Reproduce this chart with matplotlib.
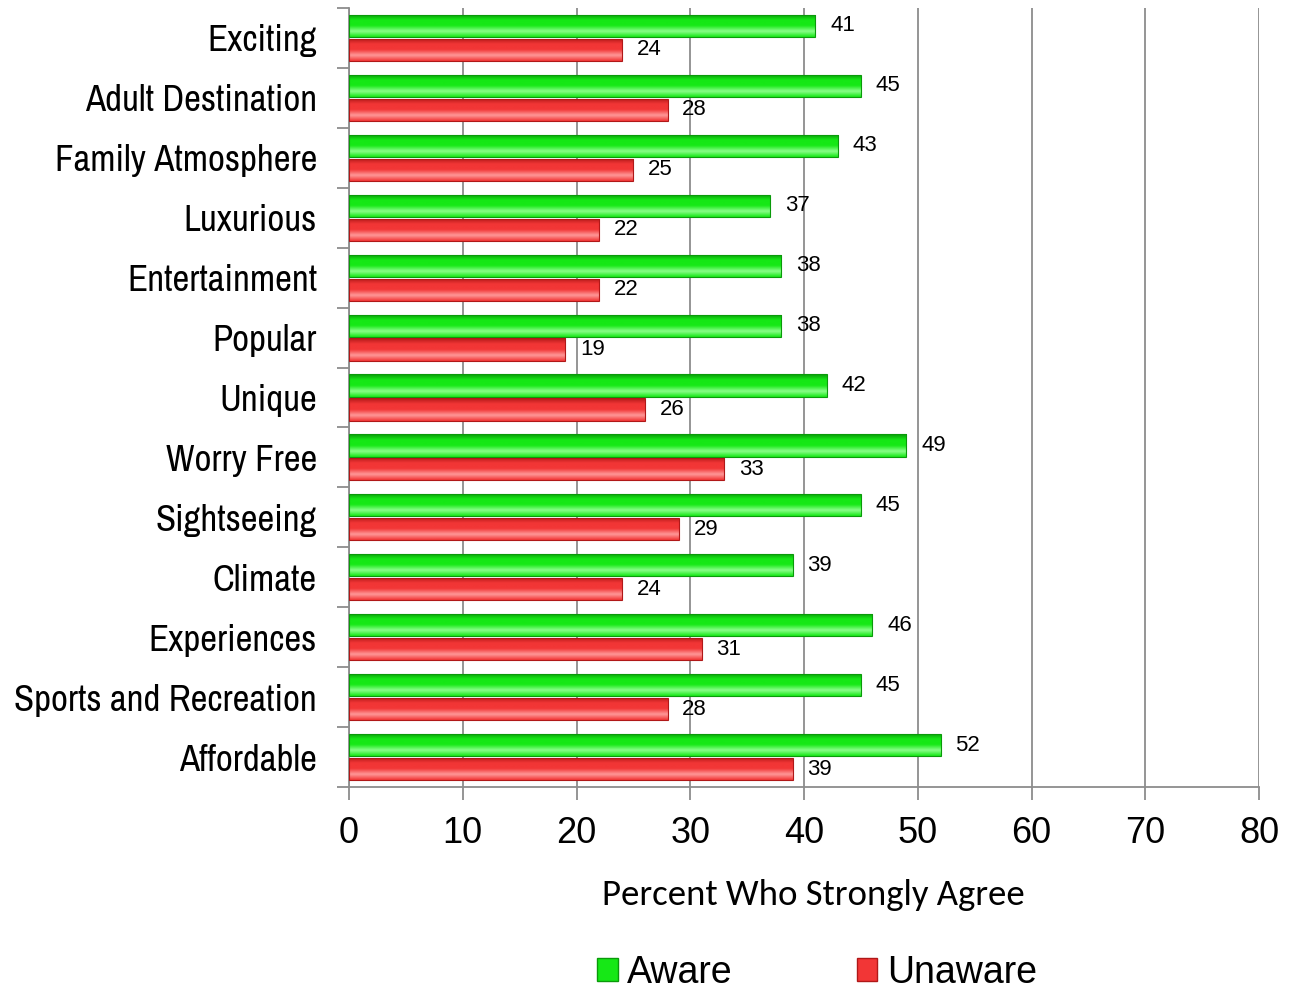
import numpy as np
import matplotlib.pyplot as plt
from matplotlib.patches import Patch
from matplotlib.colors import LinearSegmentedColormap

categories = [
    "Exciting", "Adult Destination", "Family Atmosphere", "Luxurious",
    "Entertainment", "Popular", "Unique", "Worry Free", "Sightseeing",
    "Climate", "Experiences", "Sports and Recreation", "Affordable",
]
aware = [41, 45, 43, 37, 38, 38, 42, 49, 45, 39, 46, 45, 52]
unaware = [24, 28, 25, 22, 22, 19, 26, 33, 29, 24, 31, 28, 39]
x_ticks = [0, 10, 20, 30, 40, 50, 60, 70, 80]

NARROW = ["Archivo Narrow", "DejaVu Sans"]
ARIAL = ["Liberation Sans", "DejaVu Sans"]
CALIBRI = ["Carlito", "Lato", "DejaVu Sans"]

green = {"face": "#16e816", "light": "#8cff8c", "dark": "#0a9a0a"}
red = {"face": "#f23636", "light": "#ff9a9a", "dark": "#b01818"}


def glossy(ax, bars, c):
    """Paint a vertical highlight gradient inside each bar."""
    cmap = LinearSegmentedColormap.from_list(
        "g", [c["dark"], c["face"], c["face"], c["light"], c["face"]])
    grad = np.linspace(0, 1, 64).reshape(-1, 1)
    for b in bars:
        x0, y0 = b.get_x(), b.get_y()
        w, h = b.get_width(), b.get_height()
        im = ax.imshow(grad, cmap=cmap, aspect="auto", origin="upper",
                       extent=(x0, x0 + w, y0 + h, y0), zorder=2,
                       interpolation="bicubic")
        im.set_clip_path(b)
        b.set_facecolor("none")
        b.set_edgecolor(c["dark"])
        b.set_linewidth(0.8)
        b.set_zorder(3)


fig = plt.figure(figsize=(12.91, 9.90), dpi=100)
ax = fig.add_axes([349 / 1291, 1 - 787 / 990, 910 / 1291, 779 / 990])

y = np.arange(len(categories))
h = 0.37
bars_a = ax.barh(y - 0.2, aware, height=h, color=green["face"])
bars_u = ax.barh(y + 0.2, unaware, height=h, color=red["face"])
glossy(ax, bars_a, green)
glossy(ax, bars_u, red)

for yi, v in zip(y, aware):
    ax.text(v + 1.3, yi - 0.2, str(v), va="center", ha="left",
            fontsize=16, family=ARIAL, zorder=4)
for yi, v in zip(y, unaware):
    ax.text(v + 1.3, yi + 0.2, str(v), va="center", ha="left",
            fontsize=16, family=ARIAL, zorder=4)

ax.set_xlim(0, 80)
ax.set_ylim(len(categories) - 0.5, -0.5)
ax.set_xticks(x_ticks)
ax.set_xticklabels([str(t) for t in x_ticks], fontsize=26, family=ARIAL)
ax.tick_params(axis="x", length=9, color="#8c8c8c", width=1.3, pad=12)

# category boundary ticks on the left, labels centred between them
ax.set_yticks(np.arange(len(categories) + 1) - 0.5)
ax.set_yticklabels([])
ax.set_yticks(y, minor=True)
ax.set_yticklabels(categories, minor=True, fontsize=26.5, family=NARROW)
ax.tick_params(axis="y", which="major", length=9, color="#8c8c8c", width=1.3)
ax.tick_params(axis="y", which="minor", length=0, pad=23)

ax.grid(axis="x", color="#8c8c8c", linewidth=1.3)
ax.set_axisbelow(True)
for s in ("top", "right"):
    ax.spines[s].set_visible(False)
for s in ("left", "bottom"):
    ax.spines[s].set_color("#8c8c8c")
    ax.spines[s].set_linewidth(1.3)

fig.text(813 / 1291, 1 - 895 / 990, "Percent Who Strongly Agree",
         ha="center", va="center", fontsize=26.5, family=CALIBRI)

handles = [
    Patch(facecolor=green["face"], edgecolor=green["dark"], label="Aware"),
    Patch(facecolor=red["face"], edgecolor=red["dark"], label="Unaware"),
]
leg = fig.legend(handles=handles, loc="center", ncol=2, frameon=False,
                 bbox_to_anchor=(817 / 1291, 1 - 973 / 990),
                 prop={"family": ARIAL, "size": 27}, handlelength=0.55,
                 handleheight=0.55, handletextpad=0.25, columnspacing=3.3)

fig.savefig("out.png", dpi=100)
